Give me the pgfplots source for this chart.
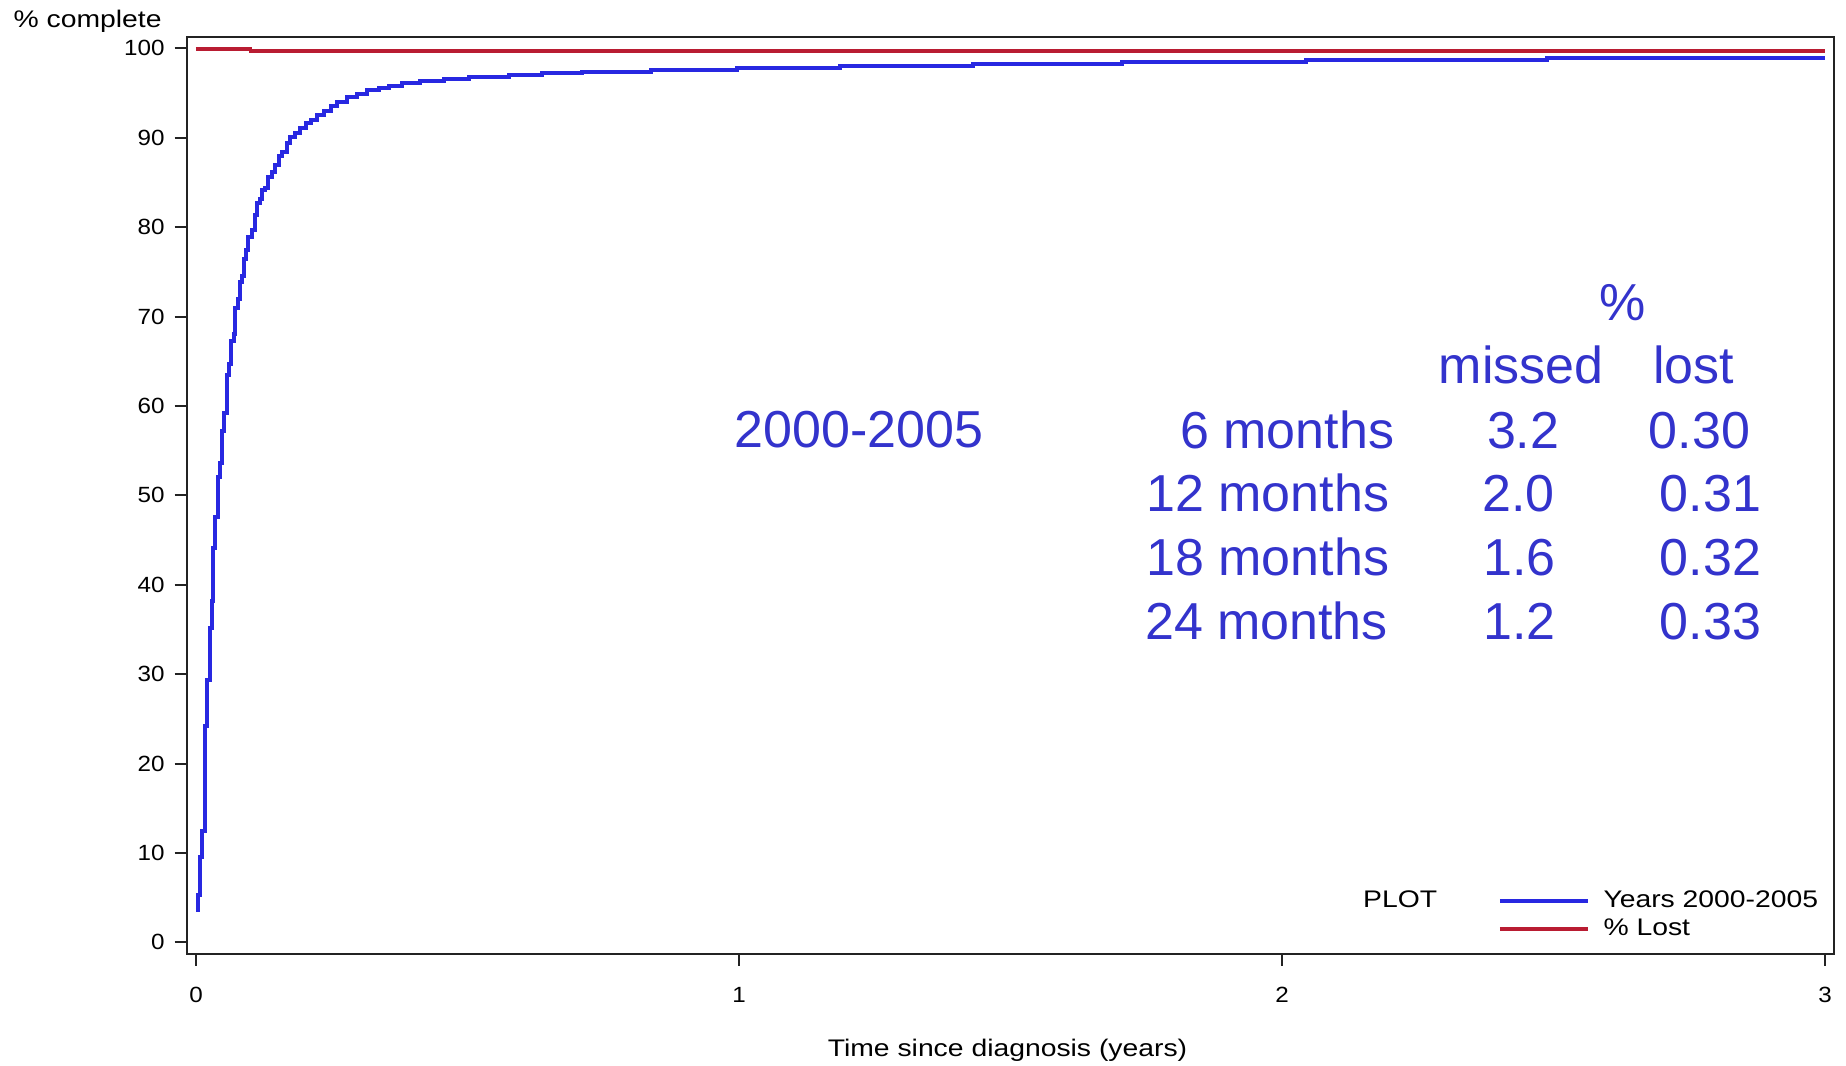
\documentclass[border=0pt]{standalone}
\usepackage{pgfplots}
\pgfplotsset{compat=1.18}
\usepackage{fontspec}
\setmainfont{Liberation Sans}
\newfontfamily\labelfont[FakeStretch=1.18]{Liberation Sans}
\newfontfamily\tickfont[FakeStretch=1.1]{Liberation Sans}

\definecolor{kmblue}{RGB}{40,40,225}
\definecolor{lostred}{RGB}{185,28,50}
\definecolor{txtblue}{RGB}{51,51,204}
\definecolor{axisgray}{RGB}{35,35,35}

% cumulative % complete, years 2000-2005 (step function)
\pgfplotstableread{
t y
0      3.6
0.004  5.3
0.007  9.6
0.0114 12.5
0.0157 24.2
0.0206 29.3
0.0249 35.2
0.0292 38.2
0.0316 44.1
0.0359 47.6
0.0402 52.1
0.0451 53.6
0.0476 57.2
0.0525 59.2
0.0562 63.5
0.0605 64.7
0.0648 67.3
0.0697 68.0
0.0727 70.9
0.0770 72.0
0.0807 73.9
0.0850 74.5
0.0893 76.4
0.0920 77.4
0.0954 78.9
0.1035 79.7
0.108  81.4
0.1127 82.7
0.1175 83.2
0.122  84.2
0.128  84.4
0.132  85.6
0.140  86.2
0.146  87.0
0.152  87.9
0.159  88.4
0.167  89.4
0.174  90.1
0.183  90.5
0.192  91.1
0.202  91.6
0.211  92.0
0.223  92.5
0.235  93.0
0.248  93.5
0.260  94.0
0.278  94.5
0.297  94.9
0.315  95.3
0.337  95.6
0.355  95.8
0.380  96.1
0.413  96.35
0.456  96.58
0.502  96.8
0.576  97.0
0.638  97.2
0.711  97.4
0.838  97.6
0.997  97.8
1.186  98.05
1.431  98.3
1.706  98.48
2.045  98.68
2.488  98.87
3.0    98.87
}\completetable

% 100 minus % lost to follow-up
\pgfplotstableread{
t y
0     100
0.004 99.93
0.100 99.69
3.000 99.69
}\losttable

\begin{document}
\begin{tikzpicture}[x=1pt,y=1pt]
\path[use as bounding box] (0,0) rectangle (923,532.5);
\begin{axis}[
  at={(93.35pt,55.5pt)}, anchor=south west,
  scale only axis, width=823.4pt, height=458.65pt,
  xmin=-0.0171, xmax=3.0157, ymin=-1.3, ymax=101.3,
  axis line style={axisgray, line width=1pt},
  xtick={0,1,2,3}, ytick={0,10,...,100},
  tick pos=left, tick align=outside, major tick length=6pt,
  tick style={axisgray, line width=1pt},
  /pgf/number format/assume math mode=true,
  ticklabel style={font=\tickfont\fontsize{11}{13}\selectfont, text=black, inner sep=0pt},
  xticklabel shift=10.5pt,
  yticklabel shift=4.85pt,
  legend style={draw=none, fill=none, inner sep=0pt, outer sep=0pt,
    at={(rel axis cs:0.7962,0.0689)}, anchor=north west,
    font=\labelfont\fontsize{12}{14}\selectfont, row sep=4.2pt,
    nodes={inner sep=0pt},
    /tikz/every odd column/.append style={column sep=6.8pt}},
  legend cell align=left,
  legend image code/.code={\draw[#1, line width=2pt] (0pt,0pt) -- (44pt,0pt);},
]
\addplot[const plot, kmblue, line width=2pt] table[x=t, y=y] {\completetable};
\addlegendentry{Years 2000-2005}
\addplot[const plot, lostred, line width=1.7pt] table[x=t, y=y] {\losttable};
\addlegendentry{\% Lost}
\end{axis}

% axis titles
\node[anchor=base west, inner sep=0pt, font=\labelfont\fontsize{12}{14}\selectfont] at (6.65,518.85) {\% complete};
\node[anchor=base, inner sep=0pt, font=\labelfont\fontsize{12}{14}\selectfont] at (503.75,4.15) {Time since diagnosis (years)};
\node[anchor=base west, inner sep=0pt, font=\labelfont\fontsize{12}{14}\selectfont] at (681.35,78.5) {PLOT};

% summary table
\begin{scope}[every node/.style={anchor=base west, inner sep=0pt, text=txtblue, font=\fontsize{26}{30}\selectfont}]
\node at (367,308.5) {2000-2005};
\node at (799.5,372) {\%};
\node at (719.2,340.5) {missed};
\node at (826.5,340.5) {lost};
\node at (589.95,308.35) {6 months};
\node at (743.3,308.35) {3.2};
\node at (824.2,308.35) {0.30};
\node at (573,276.65) {12 months};
\node at (740.9,276.65) {2.0};
\node at (829.7,276.65) {0.31};
\node at (573,244.65) {18 months};
\node at (741.5,244.65) {1.6};
\node at (829.7,244.65) {0.32};
\node at (572.35,212.5) {24 months};
\node at (741.5,212.5) {1.2};
\node at (829.7,212.5) {0.33};
\end{scope}
\end{tikzpicture}
\end{document}
